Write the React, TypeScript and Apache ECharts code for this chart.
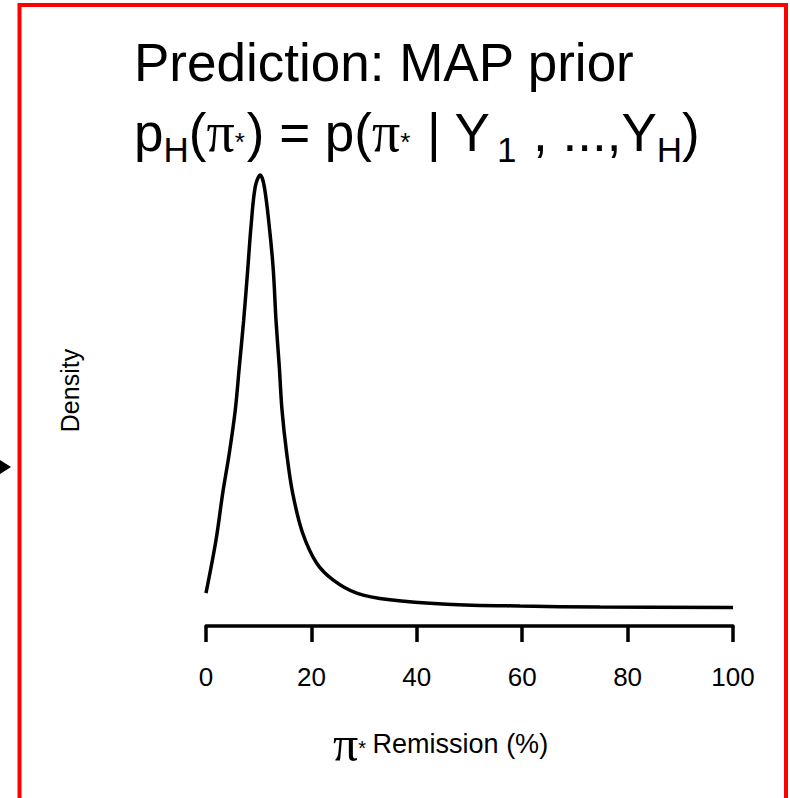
import React, { useEffect, useRef } from "react";
import * as echarts from "echarts";

// Remission rate (%) and the MAP prior density
const remission = [0, 1.9, 3.17, 4.42, 5.56, 6.32, 7.15, 7.91, 8.54, 9.35, 10.3, 11.06, 12.01, 12.77, 13.28, 13.91, 14.42, 15.31, 16.45, 18.35, 21.01, 24.16, 28.6, 34.9, 45.7, 59.6, 74.8, 100];
const density = [0.0033, 0.0143, 0.024, 0.0323, 0.0413, 0.0502, 0.0599, 0.0703, 0.0793, 0.0876, 0.09, 0.0876, 0.0793, 0.0703, 0.0599, 0.0502, 0.0413, 0.0323, 0.024, 0.0157, 0.0095, 0.006, 0.0033, 0.0019, 0.001, 0.0006, 0.0004, 0.0003];

const xTicks = [0, 20, 40, 60, 80, 100];
const titleLine1 = "Prediction: MAP prior";
const xLabel = "Remission (%)";
const yLabel = "Density";

const SANS = "'Liberation Sans', Arial, sans-serif";
const SERIF = "'Liberation Serif', 'Times New Roman', serif";

export default function App() {
  const ref = useRef<HTMLDivElement>(null);

  useEffect(() => {
    if (!ref.current) return;
    const chart = echarts.init(ref.current, null, { renderer: "svg" });

    const points = remission.map((x, i) => [x, density[i]]);

    chart.setOption({
      animation: false,
      backgroundColor: "#ffffff",
      title: {
        left: 129,
        top: 22,
        text:
          `{a|${titleLine1}}\n` +
          "{a|p}{s|H}{a|(}{pi|π}{st|*}{a|) = p(}{pi|π}{st|*}{a| | Y}{s1|1}{a| , ...,Y}{s|H}{a|)}",
        textStyle: {
          color: "#000",
          fontWeight: "normal",
          rich: {
            a: { fontFamily: SANS, fontWeight: "normal", fontSize: 53, lineHeight: 70, color: "#000" },
            s: { fontFamily: SANS, fontWeight: "normal", fontSize: 35, lineHeight: 35, verticalAlign: "bottom", color: "#000" },
            s1: { fontFamily: SANS, fontWeight: "normal", fontSize: 35, lineHeight: 35, verticalAlign: "bottom", padding: [0, 2, 0, 6], color: "#000" },
            pi: { fontFamily: SERIF, fontWeight: "normal", fontSize: 56, lineHeight: 70, color: "#000" },
            st: { fontFamily: SANS, fontWeight: "normal", fontSize: 26, lineHeight: 26, verticalAlign: "bottom", padding: [0, 2, 12, 0], color: "#000" },
          },
        },
      },
      grid: { left: 206, right: 57, top: 155, bottom: 172, containLabel: false },
      xAxis: {
        type: "value",
        min: 0,
        max: 100,
        interval: 20,
        name: `{pi|π}{st|*}  {t|${xLabel}}`,
        nameLocation: "middle",
        nameGap: 96,
        nameTextStyle: {
          padding: [0, 58, 0, 0],
          rich: {
            pi: { fontFamily: SERIF, fontSize: 50, lineHeight: 44, color: "#000" },
            st: { fontFamily: SANS, fontSize: 20, lineHeight: 20, verticalAlign: "bottom", padding: [0, 0, 8, 0], color: "#000" },
            t: { fontFamily: SANS, fontSize: 27, lineHeight: 44, color: "#000" },
          },
        },
        axisLine: { show: true, onZero: false, lineStyle: { color: "#000", width: 3.5 } },
        axisTick: { show: true, length: 16, lineStyle: { color: "#000", width: 3.5 } },
        axisLabel: {
          margin: 38,
          fontFamily: SANS,
          fontSize: 26,
          color: "#000",
          formatter: (v: number) => (xTicks.includes(v) ? String(v) : ""),
        },
        splitLine: { show: false },
      },
      yAxis: {
        type: "value",
        min: -0.00353,
        max: 0.09415,
        name: yLabel,
        nameLocation: "middle",
        nameGap: 124,
        nameTextStyle: { fontFamily: SANS, fontSize: 25, color: "#000" },
        axisLine: { show: false },
        axisTick: { show: false },
        axisLabel: { show: false },
        splitLine: { show: false },
      },
      series: [
        {
          type: "line",
          data: points,
          smooth: 0.35,
          showSymbol: false,
          lineStyle: { color: "#000", width: 3.5 },
        },
      ],
      graphic: [
        {
          type: "rect",
          shape: { x: 19.5, y: 5, width: 766.5, height: 850 },
          style: { fill: "none", stroke: "#ff0000", lineWidth: 4 },
          silent: true,
        },
        {
          type: "polygon",
          shape: { points: [[0, 460], [11, 467], [0, 474]] },
          style: { fill: "#000" },
          silent: true,
        },
      ],
    });

    return () => chart.dispose();
  }, []);

  return (
    <div
      ref={ref}
      style={{ position: "absolute", left: 0, top: 0, width: 790, height: 798, background: "#fff" }}
    />
  );
}
